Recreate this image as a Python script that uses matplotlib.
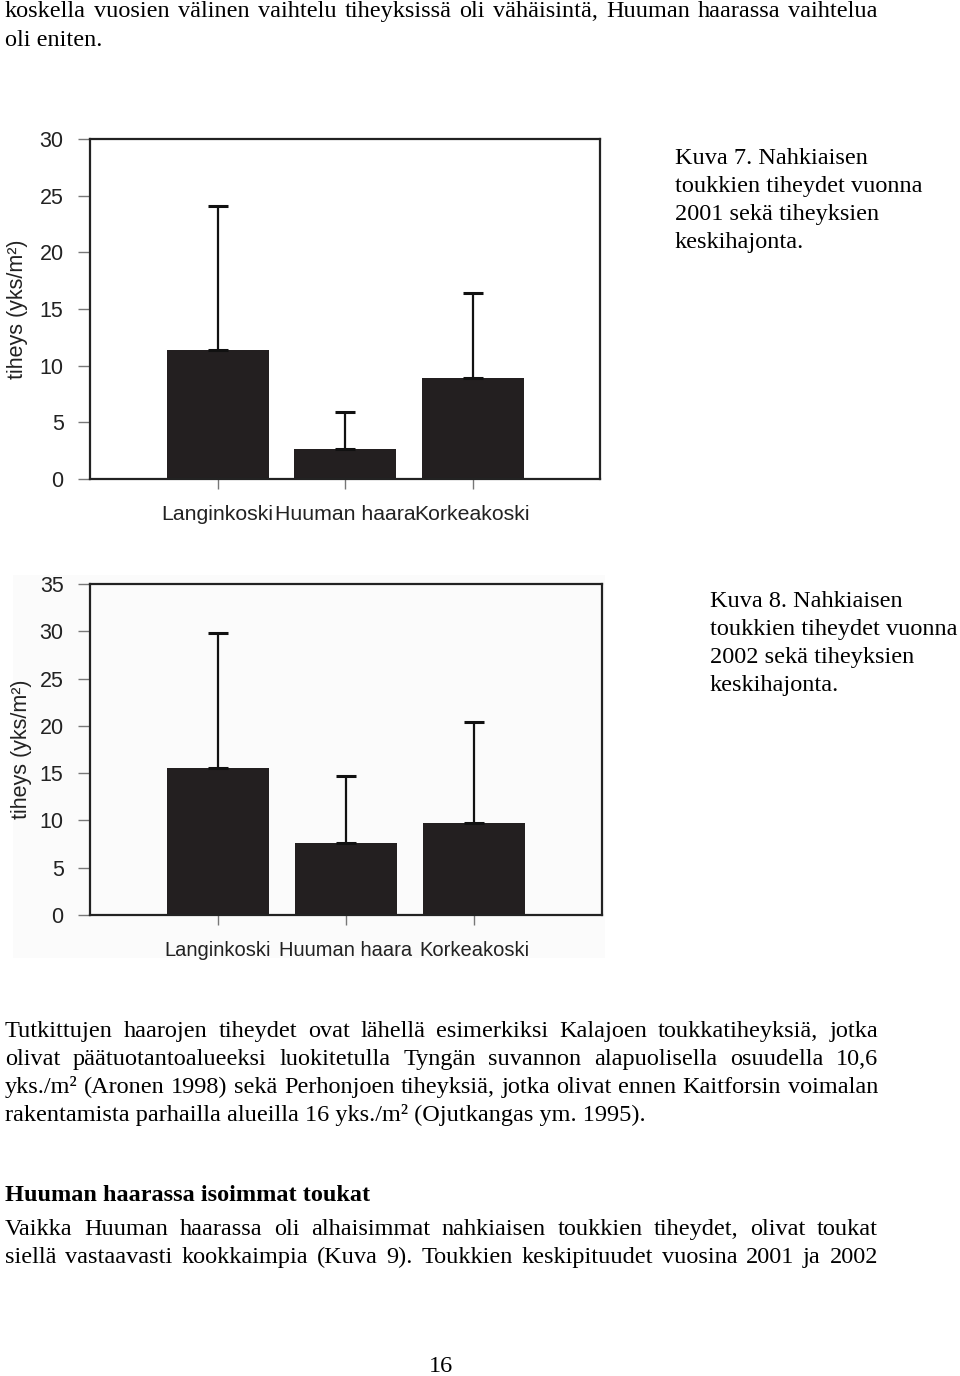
import matplotlib.pyplot as plt
from matplotlib.patches import Rectangle

places = ["Langinkoski", "Huuman haara", "Korkeakoski"]
dens_2001 = [11.4, 2.65, 8.95]
sd_2001 = [12.7, 3.3, 7.45]
dens_2002 = [15.5, 7.6, 9.7]
sd_2002 = [14.35, 7.1, 10.7]
ticks_2001 = [0, 5, 10, 15, 20, 25, 30]
ticks_2002 = [0, 5, 10, 15, 20, 25, 30, 35]

W, H = 960, 1376
SANS = "Liberation Sans"
SERIF = "Liberation Serif"
BAR = "#231f20"


def px(x):
    return x / W


def py(y):
    return 1 - y / H


def bar_chart(fig, box, vals, errs, yticks, label_x, xfont):
    # box = left, top, right, bottom in pixels
    l, t, r, b = box
    ax = fig.add_axes([px(l), py(b), (r - l) / W, (b - t) / H])
    ax.patch.set_alpha(0)
    pos = [1, 2, 3]
    ax.bar(pos, vals, width=0.8, color=BAR, zorder=2)
    ax.errorbar(pos, vals, yerr=[[0, 0, 0], errs], fmt="none", ecolor="#111111",
                elinewidth=1.6, capsize=7, capthick=2.2, zorder=3)
    ax.set_xlim(0, 4)
    ax.set_ylim(yticks[0], yticks[-1])
    ax.set_yticks(yticks)
    ax.set_xticks(pos)
    ax.set_xticklabels(places, fontfamily=SANS, fontsize=xfont, color="#222222")
    ax.set_yticklabels([str(v) for v in yticks], fontfamily=SANS, fontsize=15.5,
                       color="#222222")
    ax.tick_params(axis="y", length=9, width=1, color="#777777", pad=10)
    ax.tick_params(axis="x", length=7, width=1, color="#777777", pad=12)
    for s in ax.spines.values():
        s.set_linewidth(1.6)
        s.set_color("#222222")
    ax.set_ylabel("tiheys (yks/m²)", fontfamily=SANS, fontsize=15.5, color="#222222")
    ax.yaxis.set_label_coords(label_x, 0.5)
    return ax


fig = plt.figure(figsize=(W / 100, H / 100), dpi=100)
fig.patches.append(Rectangle((px(13), py(958)), (605 - 13) / W, (958 - 575) / H,
                             transform=fig.transFigure, facecolor="#fbfbfb",
                             edgecolor="none", zorder=-5))

bar_chart(fig, (90, 139, 600, 479), dens_2001, sd_2001, ticks_2001, -0.122, 15.3)
bar_chart(fig, (90, 584, 602, 915), dens_2002, sd_2002, ticks_2002, -0.113, 14.5)

renderer = fig.canvas.get_renderer()
body = dict(fontfamily=SERIF, fontsize=17.5, color="black", va="baseline")


def put_line(text, y, justify=True, x0=5, x1=878, **kw):
    opts = dict(body)
    opts.update(kw)
    if not justify:
        fig.text(px(x0), py(y), text, **opts)
        return
    words = text.split()
    items = [fig.text(0, py(y), w, **opts) for w in words]
    widths = [t.get_window_extent(renderer).width for t in items]
    gap = (x1 - x0 - sum(widths)) / (len(words) - 1)
    x = x0
    for t, w in zip(items, widths):
        t.set_x(px(x))
        x += w + gap


put_line("koskella vuosien välinen vaihtelu tiheyksissä oli vähäisintä, Huuman haarassa vaihtelua", 17)
put_line("oli eniten.", 46, justify=False)

caption7 = ["Kuva 7. Nahkiaisen", "toukkien tiheydet vuonna", "2001 sekä tiheyksien", "keskihajonta."]
caption8 = ["Kuva 8. Nahkiaisen", "toukkien tiheydet vuonna", "2002 sekä tiheyksien", "keskihajonta."]
for i, s in enumerate(caption7):
    put_line(s, 164 + 28 * i, justify=False, x0=675)
for i, s in enumerate(caption8):
    put_line(s, 607 + 28 * i, justify=False, x0=710)

put_line("Tutkittujen haarojen tiheydet ovat lähellä esimerkiksi Kalajoen toukkatiheyksiä, jotka", 1037)
put_line("olivat päätuotantoalueeksi luokitetulla Tyngän suvannon alapuolisella osuudella 10,6", 1065)
put_line("yks./m² (Aronen 1998) sekä Perhonjoen tiheyksiä, jotka olivat ennen Kaitforsin voimalan", 1093)
put_line("rakentamista parhailla alueilla 16 yks./m² (Ojutkangas ym. 1995).", 1121, justify=False)

put_line("Huuman haarassa isoimmat toukat", 1201, justify=False, fontweight="bold")
put_line("Vaikka Huuman haarassa oli alhaisimmat nahkiaisen toukkien tiheydet, olivat toukat", 1235)
put_line("siellä vastaavasti kookkaimpia (Kuva 9). Toukkien keskipituudet vuosina 2001 ja 2002", 1263)

fig.text(px(441), py(1372), "16", ha="center", **body)

fig.savefig("out.png", dpi=100)
